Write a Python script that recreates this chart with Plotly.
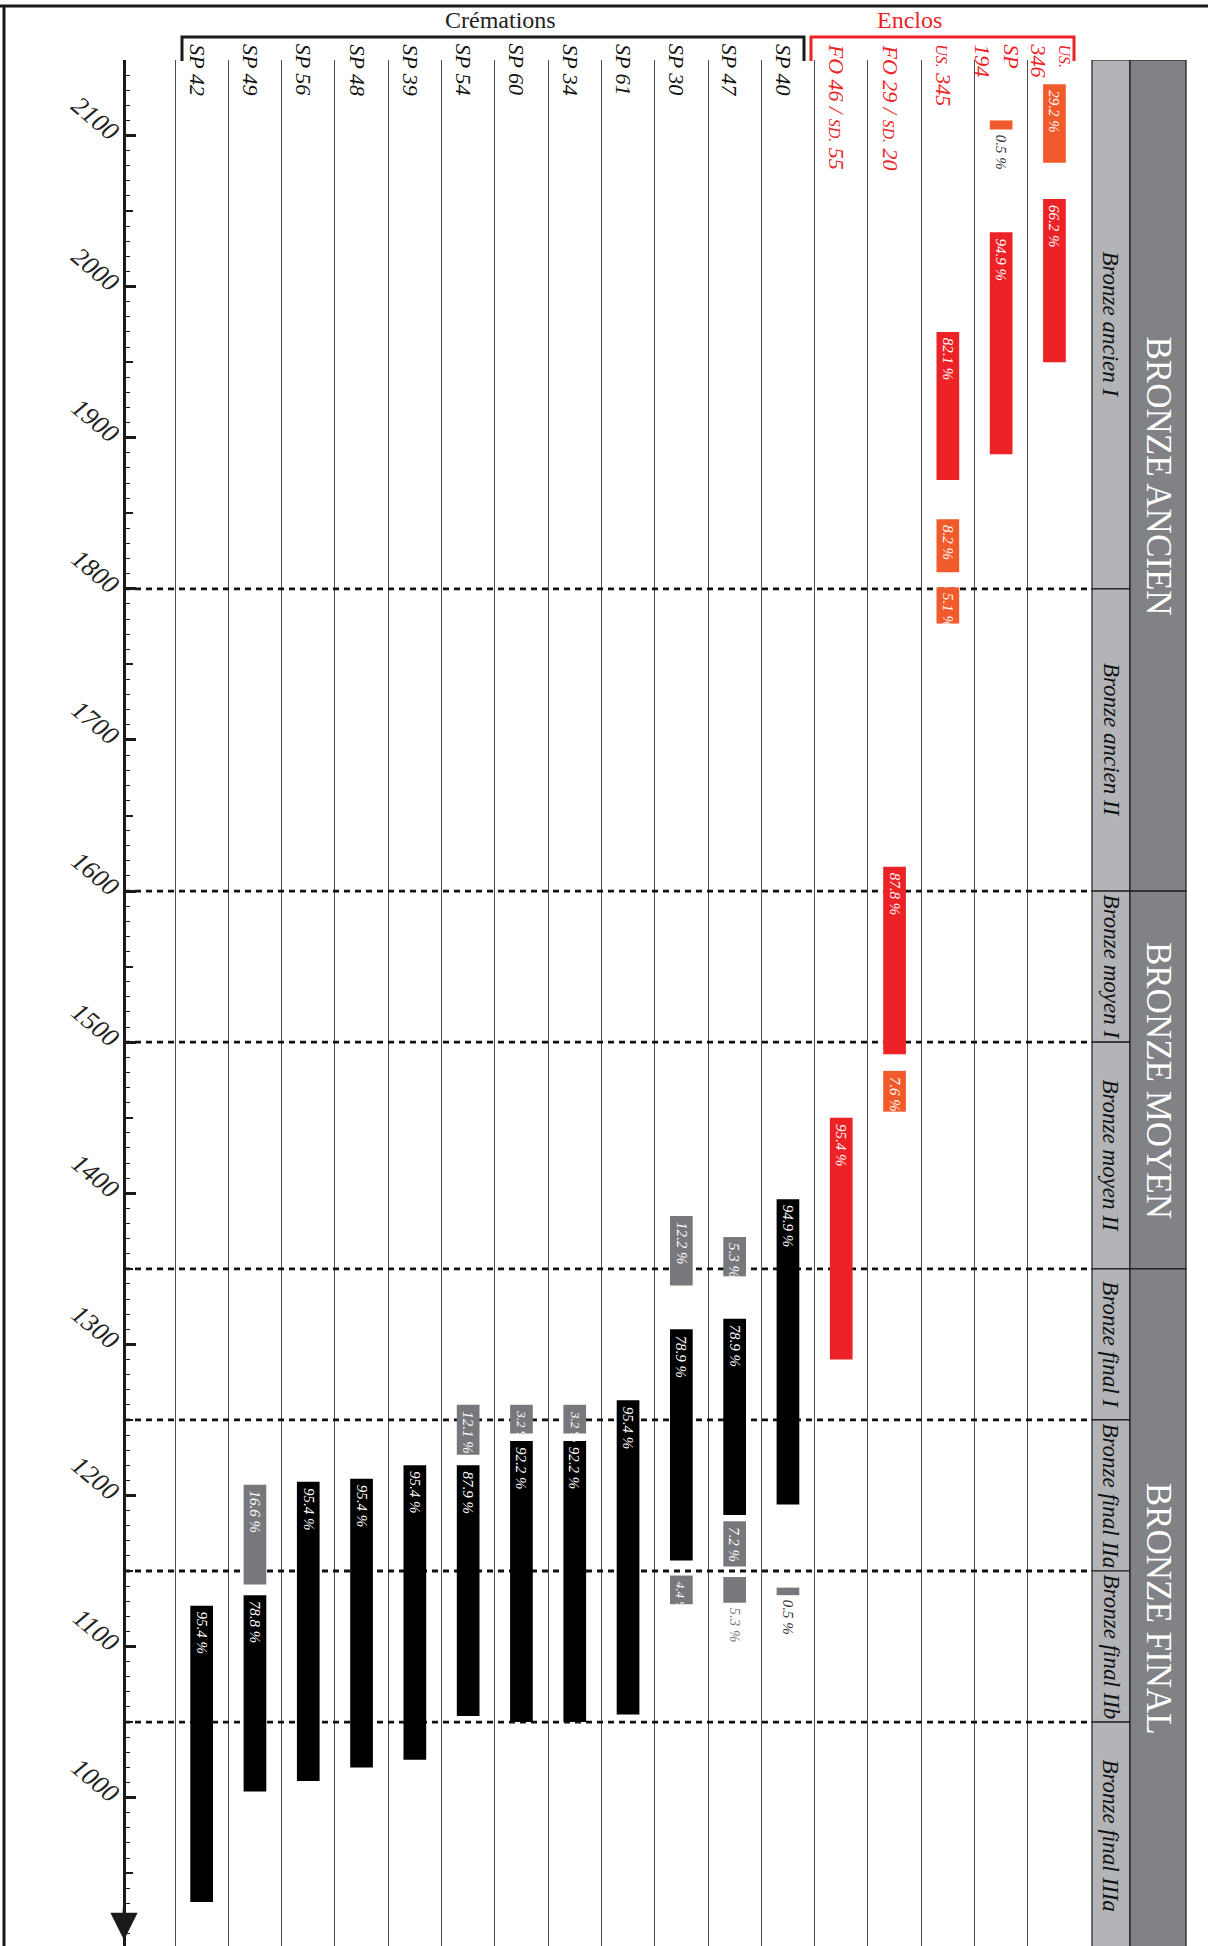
import plotly.graph_objects as go

# ---- data -----------------------------------------------------------------
columns = ["SP 42", "SP 49", "SP 56", "SP 48", "SP 39", "SP 54", "SP 60", "SP 34",
           "SP 61", "SP 30", "SP 47", "SP 40",
           "FO 46 / SD. 55", "FO 29 / SD. 20", "US. 345", "SP 194", "US. 346"]
n_cremations = 12

sc = "<span style='font-size:16px'>{}</span>"
column_labels = ["SP 42", "SP 49", "SP 56", "SP 48", "SP 39", "SP 54", "SP 60", "SP 34",
                 "SP 61", "SP 30", "SP 47", "SP 40",
                 "FO 46 / " + sc.format("SD.") + " 55",
                 "FO 29 / " + sc.format("SD.") + " 20",
                 sc.format("US.") + " 345",
                 "SP<br>194",
                 sc.format("US.") + "<br>346"]

# one entry per calibrated range (cal BC)
bar_col = [0,
           1, 1,
           2, 3, 4,
           5, 5,
           6, 6,
           7, 7,
           8,
           9, 9, 9,
           10, 10, 10, 10,
           11, 11,
           12,
           13, 13,
           14, 14, 14,
           15, 15,
           16, 16]
bar_from = [1127,
            1207, 1134,
            1209, 1211, 1220,
            1260, 1220,
            1260, 1236,
            1260, 1236,
            1263,
            1385, 1310, 1147,
            1371, 1317, 1183, 1146,
            1396, 1139,
            1450,
            1616, 1481,
            1970, 1846, 1801,
            2110, 2036,
            2134, 2058]
bar_to = [931,
          1141, 1004,
          1011, 1020, 1025,
          1227, 1054,
          1241, 1050,
          1241, 1050,
          1055,
          1339, 1157, 1128,
          1345, 1187, 1153, 1129,
          1194, 1134,
          1290,
          1492, 1454,
          1872, 1811, 1777,
          2104, 1889,
          2082, 1950]
bar_pct = [95.4,
           16.6, 78.8,
           95.4, 95.4, 95.4,
           12.1, 87.9,
           3.2, 92.2,
           3.2, 92.2,
           95.4,
           12.2, 78.9, 4.4,
           5.3, 78.9, 7.2, 5.3,
           94.9, 0.5,
           95.4,
           87.8, 7.6,
           82.1, 8.2, 5.1,
           0.5, 94.9,
           29.2, 66.2]
bar_main = [1,
            0, 1,
            1, 1, 1,
            0, 1,
            0, 1,
            0, 1,
            1,
            0, 1, 0,
            0, 1, 0, 0,
            1, 0,
            1,
            1, 0,
            1, 0, 0,
            0, 1,
            0, 1]
label_below = [0,
               0, 0,
               0, 0, 0,
               0, 0,
               0, 0,
               0, 0,
               0,
               0, 0, 0,
               0, 0, 0, 1,
               0, 1,
               0,
               0, 0,
               0, 0, 0,
               1, 0,
               0, 0]

sub_periods = ["Bronze ancien I", "Bronze ancien II", "Bronze moyen I", "Bronze moyen II",
               "Bronze final I", "Bronze final IIa", "Bronze final IIb", "Bronze final IIIa"]
sub_bounds = [2150, 1800, 1600, 1500, 1350, 1250, 1150, 1050, 900]
main_periods = ["BRONZE ANCIEN", "BRONZE MOYEN", "BRONZE FINAL"]
main_bounds = [2150, 1600, 1350, 900]

year_labels = list(range(1000, 2101, 100))

# ---- layout helpers (positions in page px) --------------------------------
OFF = 0                          # page margin removed by post_script
W, H = 1208, 1946
COL0, COLW = 175, 53.3           # px of first column line, column width
TOP_PX, PX_YEAR = 60, 1.511      # px of year 2150, px per year
Y_TOP = 2150
Y_BOT = Y_TOP - (OFF + H - TOP_PX) / PX_YEAR
AXIS_PX = 124
BAND1 = (1092, 1130)
BAND2 = (1130, 1186)


def px2x(px):
    return (px - COL0) / COLW


def pxx(px):
    return (px - OFF) / W


def pxy(py):
    return 1 - (py - OFF) / H


SERIF = "Liberation Serif"
RED = "#ec2227"
ORANGE = "#f15a2b"
GREY = "#77787b"

fig = go.Figure()

# period bands
fig.add_trace(go.Bar(
    x=[px2x(sum(BAND1) / 2)] * len(sub_periods),
    base=sub_bounds[1:],
    y=[a - b for a, b in zip(sub_bounds[:-1], sub_bounds[1:])],
    width=(BAND1[1] - BAND1[0]) / COLW,
    marker=dict(color="#b2b4b7", line=dict(color="#1a1a1a", width=1.2)),
    hoverinfo="skip"))
fig.add_trace(go.Bar(
    x=[px2x(sum(BAND2) / 2)] * len(main_periods),
    base=main_bounds[1:],
    y=[a - b for a, b in zip(main_bounds[:-1], main_bounds[1:])],
    width=(BAND2[1] - BAND2[0]) / COLW,
    marker=dict(color="#808285", line=dict(color="#1a1a1a", width=1.2)),
    hoverinfo="skip"))

# dating bars
colors = []
for c, m in zip(bar_col, bar_main):
    if c < n_cremations:
        colors.append("#000000" if m else GREY)
    else:
        colors.append(RED if m else ORANGE)

fig.add_trace(go.Bar(
    x=[c + 0.5 for c in bar_col],
    base=bar_to,
    y=[f - t for f, t in zip(bar_from, bar_to)],
    width=22.7 / COLW,
    marker=dict(color=colors, line=dict(width=0)),
    hoverinfo="skip"))

# empty trace so the labelled overlay axis is drawn
fig.add_trace(go.Scatter(x=[None], y=[None], yaxis="y2", hoverinfo="skip"))

ann = []
# percentages
for c, f, t, p, below in zip(bar_col, bar_from, bar_to, bar_pct, label_below):
    txt = ("%.1f %%" % p)
    size = 15 if f - t > 20 else 13
    if below:
        ann.append(dict(x=c + 0.5, y=t, xref="x", yref="y", text=txt, textangle=90,
                        showarrow=False, yanchor="top", yshift=-3,
                        font=dict(family=SERIF, size=15, style="italic",
                                  color="#333" if c >= n_cremations or p < 1 else "#777")))
    else:
        ann.append(dict(x=c + 0.5, y=f, xref="x", yref="y", text=txt, textangle=90,
                        showarrow=False, yanchor="top", yshift=-4,
                        font=dict(family=SERIF, size=size, style="italic", color="white")))

# column headers
for i, lab in enumerate(column_labels):
    ann.append(dict(x=i + 0.5, y=pxy(42), xref="x", yref="paper", text=lab,
                    textangle=90, showarrow=False, yanchor="top", xshift=-5, align="left",
                    font=dict(family=SERIF, size=22, style="italic",
                              color="#111" if i < n_cremations else RED)))

ann.append(dict(x=pxx(500), y=pxy(20), xref="paper", yref="paper", text="Crémations",
                showarrow=False, yanchor="middle",
                font=dict(family=SERIF, size=24, color="#222")))
ann.append(dict(x=pxx(944), y=pxy(20), xref="paper", yref="paper", text="Enclos",
                showarrow=False, yanchor="middle",
                font=dict(family=SERIF, size=24, color=RED)))

# period labels
for name, a, b in zip(sub_periods, sub_bounds[:-1], sub_bounds[1:]):
    ann.append(dict(x=px2x(sum(BAND1) / 2), y=(a + b) / 2, xref="x", yref="y", text=name,
                    textangle=90, showarrow=False,
                    font=dict(family=SERIF, size=23, style="italic", color="#111")))
for name, a, b in zip(main_periods, main_bounds[:-1], main_bounds[1:]):
    ann.append(dict(x=px2x(sum(BAND2) / 2), y=(a + b) / 2, xref="x", yref="y", text=name,
                    textangle=90, showarrow=False,
                    font=dict(family=SERIF, size=35, color="white")))

# axis arrow
ann.append(dict(x=pxx(AXIS_PX), y=pxy(1940), xref="paper", yref="paper", text="",
                showarrow=True, ax=0, ay=-34, arrowhead=2, arrowsize=2.1,
                arrowwidth=2.6, arrowcolor="#1a1a1a"))

shapes = []
# dashed period limits
for yv in sub_bounds[1:-1]:
    shapes.append(dict(type="line", xref="x", yref="y", x0=px2x(AXIS_PX), x1=px2x(BAND1[0]),
                       y0=yv, y1=yv, layer="between",
                       line=dict(color="#111", width=2.8, dash="6px,5px")))
# frame
shapes.append(dict(type="line", xref="paper", yref="paper", x0=0, x1=1, y0=pxy(6), y1=pxy(6),
                   line=dict(color="#1a1a1a", width=3)))
shapes.append(dict(type="line", xref="paper", yref="paper", x0=pxx(4), x1=pxx(4), y0=0, y1=pxy(6),
                   line=dict(color="#1a1a1a", width=3)))
# brackets
for x0, x1, col in [(182, 804, "#1a1a1a"), (811, 1074, RED)]:
    shapes.append(dict(type="path", xref="paper", yref="paper",
                       path="M %f,%f L %f,%f L %f,%f L %f,%f" % (
                           pxx(x0), pxy(61), pxx(x0), pxy(37), pxx(x1), pxy(37), pxx(x1), pxy(61)),
                       line=dict(color=col, width=3)))

fig.update_layout(
    width=W, height=H,
    margin=dict(l=0, r=0, t=0, b=0, pad=0),
    paper_bgcolor="white", plot_bgcolor="white",
    barmode="overlay", showlegend=False,
    annotations=ann, shapes=shapes,
    xaxis=dict(range=[px2x(OFF), px2x(OFF + W)], domain=[0, 1], anchor="y",
               tickmode="array", tickvals=list(range(0, len(columns))),
               showgrid=True, gridcolor="#4c4c4c", gridwidth=1.4,
               showticklabels=False, ticks="", zeroline=False, showline=False),
    yaxis=dict(domain=[0, pxy(TOP_PX)], range=[Y_BOT, Y_TOP], anchor="free",
               position=pxx(AXIS_PX), showline=True, linecolor="#1a1a1a", linewidth=3,
               ticks="inside", tickmode="array", tickvals=list(range(950, 2151, 50)),
               ticklen=7, tickwidth=2, tickcolor="#1a1a1a", showticklabels=False,
               minor=dict(tickmode="linear", tick0=0, dtick=10, ticks="inside",
                          ticklen=4, tickwidth=1.2, tickcolor="#1a1a1a"),
               showgrid=False, zeroline=False),
    yaxis2=dict(overlaying="y", anchor="free", position=pxx(AXIS_PX), side="left",
                range=[Y_BOT, Y_TOP], tickmode="array", tickvals=year_labels,
                ticktext=[str(v) for v in year_labels],
                ticks="inside", ticklen=11, tickwidth=2.6, tickcolor="#1a1a1a",
                showline=False, showgrid=False, zeroline=False, tickangle=40,
                ticklabelstandoff=6,
                tickfont=dict(family=SERIF, size=26, style="italic", color="#222")),
)

# drop the default body margin so page px match the layout above
fig.write_html("out.html", config={"displayModeBar": False},
               post_script="document.body.style.margin='0';")
